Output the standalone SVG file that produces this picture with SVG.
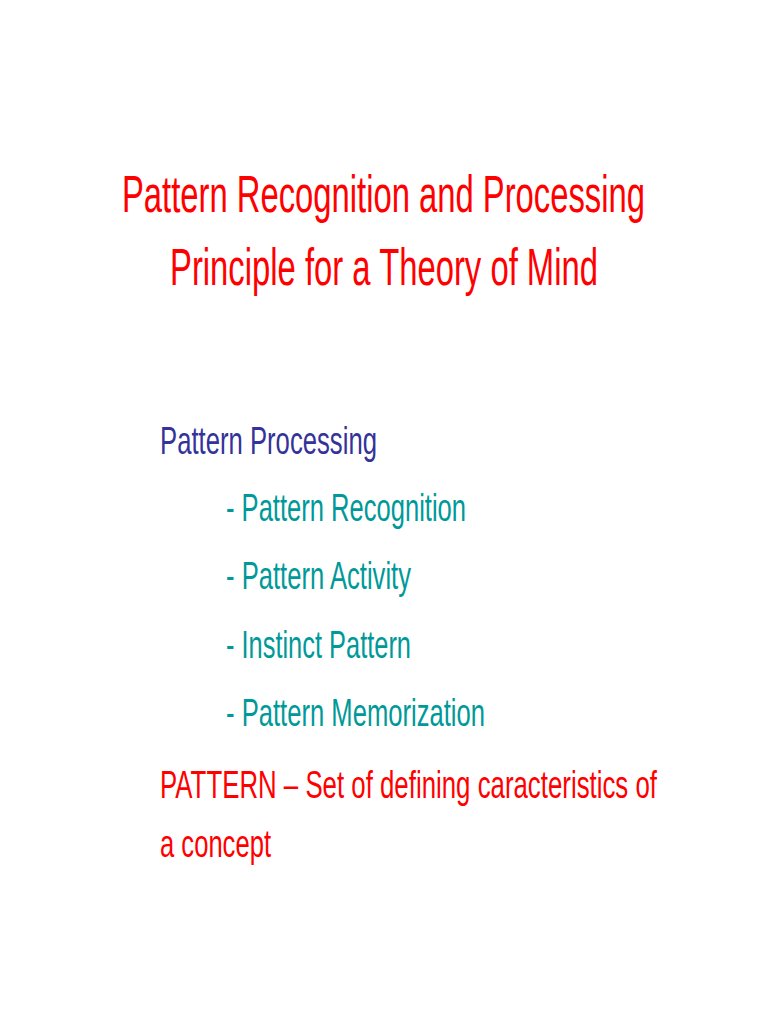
<svg xmlns="http://www.w3.org/2000/svg" width="768" height="1024" viewBox="0 0 768 1024">
<style>
text{font-family:"Liberation Sans",Arial,sans-serif}
.t{fill:#ff0000;font-size:52px}
.h{fill:#333399;font-size:39px}
.i{fill:#009999;font-size:39px}
.r{fill:#ff0000;font-size:39px}
</style>
<rect width="768" height="1024" fill="#ffffff"/>
<g id="title">
<text class="t" x="122" y="212" textLength="523" lengthAdjust="spacingAndGlyphs">Pattern Recognition and Processing</text>
<text class="t" x="170" y="285" textLength="428" lengthAdjust="spacingAndGlyphs">Principle for a Theory of Mind</text>
</g>
<g id="body">
<text class="h" x="160" y="454" textLength="217" lengthAdjust="spacingAndGlyphs">Pattern Processing</text>
<text class="i" x="226" y="521" textLength="240" lengthAdjust="spacingAndGlyphs">- Pattern Recognition</text>
<text class="i" x="226" y="589" textLength="185" lengthAdjust="spacingAndGlyphs">- Pattern Activity</text>
<text class="i" x="226" y="658" textLength="185" lengthAdjust="spacingAndGlyphs">- Instinct Pattern</text>
<text class="i" x="226" y="726" textLength="259" lengthAdjust="spacingAndGlyphs">- Pattern Memorization</text>
<text class="r" x="160" y="798" textLength="497" lengthAdjust="spacingAndGlyphs">PATTERN – Set of defining caracteristics of</text>
<text class="r" x="160" y="857" textLength="111" lengthAdjust="spacingAndGlyphs">a concept</text>
</g>
</svg>
